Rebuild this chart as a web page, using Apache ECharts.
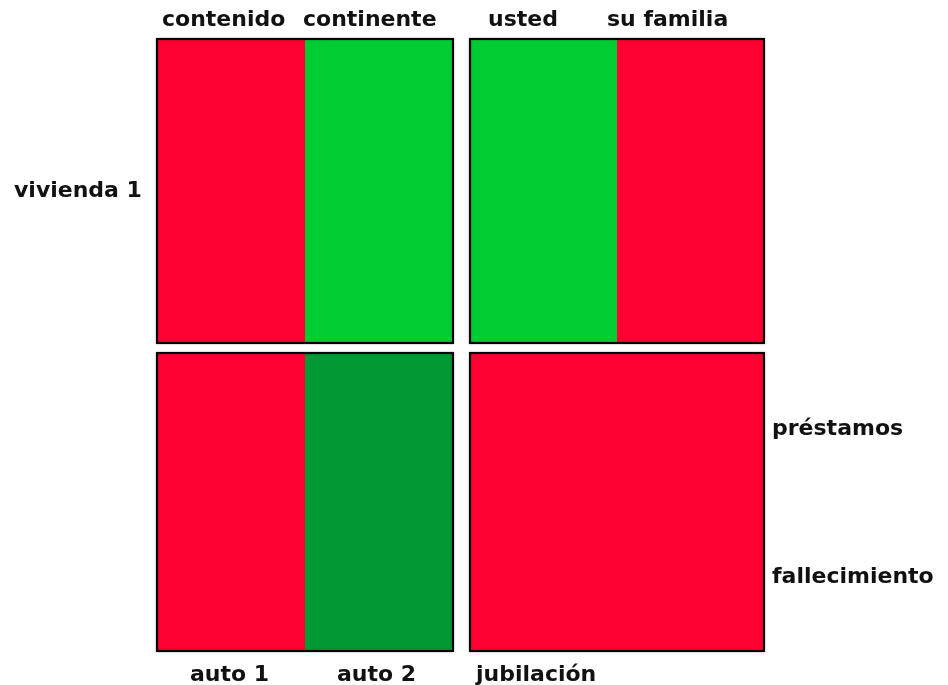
<!DOCTYPE html>
<html>
<head>
<meta charset="utf-8">
<script src="https://cdn.jsdelivr.net/npm/echarts@6/dist/echarts.min.js"></script>
<style>
	html, body { margin: 0; padding: 0; background: #fff; }
	#main { width: 948px; height: 685px; }
</style>
</head>
<body>
<div id="main"></div>
<script>
	// segmentos de cada panel (estado: 0 = sin cobertura, 1 = cubierto, 2 = cubierto parcial)
	var topLeftNames = ['contenido', 'continente'];
	var topLeftStatus = [0, 1];
	var topRightNames = ['usted', 'su familia'];
	var topRightStatus = [1, 0];
	var bottomLeftNames = ['auto 1', 'auto 2'];
	var bottomLeftStatus = [0, 2];
	var bottomRightNames = ['jubilación'];
	var bottomRightStatus = [0];
	var rowLabels = ['vivienda 1', 'préstamos', 'fallecimiento'];

	var statusColor = ['#FF0033', '#00CC33', '#009933'];
	var font = 'bold 22px "DejaVu Sans", Verdana, sans-serif';

	var panels = [
		{ names: topLeftNames, status: topLeftStatus, left: 157, top: 39, width: 296, height: 304 },
		{ names: topRightNames, status: topRightStatus, left: 470, top: 39, width: 294, height: 304 },
		{ names: bottomLeftNames, status: bottomLeftStatus, left: 157, top: 353, width: 296, height: 298 },
		{ names: bottomRightNames, status: bottomRightStatus, left: 470, top: 353, width: 294, height: 298 }
	];

	var grids = [], xAxes = [], yAxes = [], series = [];
	for (var i = 0; i < panels.length; i++) {
		var p = panels[i];
		grids.push({
			left: p.left, top: p.top, width: p.width, height: p.height,
			show: true, z: 10, backgroundColor: 'transparent',
			borderColor: '#000', borderWidth: 2,
			shadowColor: 'rgba(0,0,0,0.45)', shadowBlur: 2
		});
		xAxes.push({
			type: 'category', gridIndex: i, data: p.names,
			axisLine: { show: false }, axisTick: { show: false },
			axisLabel: { show: false }, splitLine: { show: false }
		});
		yAxes.push({
			type: 'value', gridIndex: i, min: 0, max: 1,
			axisLine: { show: false }, axisTick: { show: false },
			axisLabel: { show: false }, splitLine: { show: false }
		});
		series.push({
			type: 'bar', xAxisIndex: i, yAxisIndex: i,
			barCategoryGap: '0%', silent: true,
			data: p.status.map(function(s) {
				return { value: 1, itemStyle: { color: statusColor[s] } };
			})
		});
	}

	function label(text, x, y) {
		return {
			type: 'text', x: x, y: y, z: 20,
			style: { text: text, font: font, fill: '#111', align: 'left', verticalAlign: 'middle' }
		};
	}

	var option = {
		animation: false,
		backgroundColor: '#fff',
		grid: grids,
		xAxis: xAxes,
		yAxis: yAxes,
		series: series,
		graphic: [
			label(topLeftNames[0], 162, 20),
			label(topLeftNames[1], 303, 20),
			label(topRightNames[0], 488, 20),
			label(topRightNames[1], 607, 20),
			label(bottomLeftNames[0], 190, 675),
			label(bottomLeftNames[1], 337, 675),
			label(bottomRightNames[0], 476, 675),
			label(rowLabels[0], 14, 191),
			label(rowLabels[1], 772, 429),
			label(rowLabels[2], 772, 577)
		]
	};

	var myChart = echarts.init(document.getElementById('main'));
	myChart.setOption(option);
</script>
</body>
</html>
